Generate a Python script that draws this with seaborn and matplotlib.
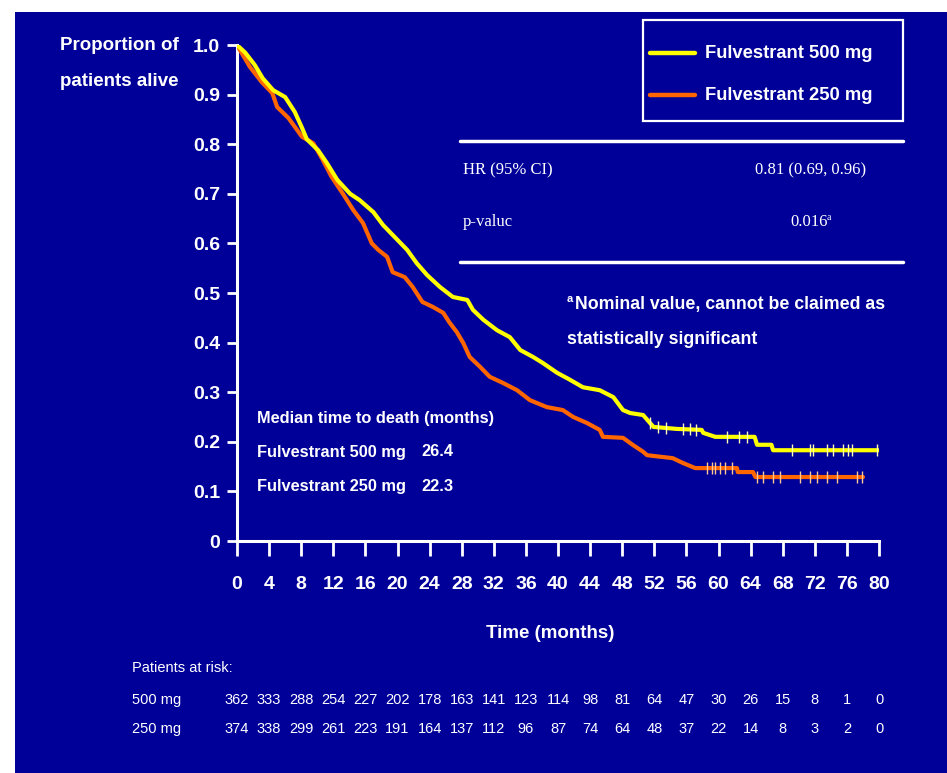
import numpy as np
import pandas as pd
import matplotlib
matplotlib.use("Agg")
import matplotlib.pyplot as plt
from matplotlib.patches import Rectangle
from matplotlib.lines import Line2D
import seaborn as sns

# ---------------- data ----------------
t_500 = [0, 1, 2.2, 3.2, 4.5, 6, 7.2, 8.1, 8.7, 10.1, 11.2, 12.5, 14.1, 15.3, 17, 18.2,
         19.4, 21.2, 22.4, 23.7, 25.3, 26.9, 28.7, 29.4, 30.7, 32.4, 34, 35.3, 36.9, 38.1,
         39.9, 41.5, 43.1, 45.2, 46.9, 48.1, 49, 50.6, 51.9, 54.8, 57.9, 58.1, 59.6, 64.5,
         64.8, 66.6, 66.8, 79.9]
s_500 = [1.0, 0.985, 0.96, 0.933, 0.909, 0.895, 0.865, 0.833, 0.81, 0.788, 0.762, 0.728,
         0.70, 0.687, 0.663, 0.637, 0.617, 0.587, 0.56, 0.536, 0.512, 0.492, 0.486, 0.466,
         0.446, 0.425, 0.411, 0.385, 0.371, 0.359, 0.339, 0.325, 0.31, 0.304, 0.29, 0.264,
         0.258, 0.254, 0.23, 0.226, 0.224, 0.218, 0.21, 0.21, 0.194, 0.194, 0.183, 0.183]

t_250 = [0, 1.6, 3.1, 4.4, 5, 6.4, 8.1, 9.5, 10.7, 11.8, 13.2, 14.5, 15.7, 16.8, 17.6,
         18.7, 19.4, 20.9, 21.9, 23.1, 24.4, 25.7, 26.5, 27.4, 28.2, 29, 30.3, 31.5, 33.1,
         34.9, 36.5, 38.6, 40.6, 41.9, 43.6, 45.2, 45.6, 48.1, 49.3, 50.6, 51.1, 54.3, 55.6,
         57.1, 62.3, 62.4, 64.3, 64.6, 78]
s_250 = [1.0, 0.956, 0.925, 0.903, 0.875, 0.853, 0.815, 0.802, 0.768, 0.734, 0.70, 0.667,
         0.641, 0.60, 0.587, 0.573, 0.542, 0.532, 0.512, 0.482, 0.472, 0.46, 0.44, 0.421,
         0.399, 0.371, 0.351, 0.331, 0.319, 0.304, 0.284, 0.27, 0.264, 0.25, 0.238, 0.224,
         0.21, 0.208, 0.194, 0.18, 0.173, 0.167, 0.157, 0.147, 0.147, 0.139, 0.139, 0.129,
         0.129]

censor_500 = [51.5, 52.5, 53.5, 55.6, 56.4, 57.2, 61.0, 62.5, 63.5, 69.2, 71.4, 71.8,
              73.5, 74.3, 75.5, 76.1, 76.6, 79.7]
censor_250 = [58.6, 59.2, 59.6, 60.2, 60.8, 61.7, 64.8, 65.5, 66.8, 67.7, 70.2, 71.4,
              72.3, 73.5, 74.8, 77.3, 77.9]

risk_times = list(range(0, 81, 4))
at_risk_500 = [362, 333, 288, 254, 227, 202, 178, 163, 141, 123, 114, 98, 81, 64, 47,
               30, 26, 15, 8, 1, 0]
at_risk_250 = [374, 338, 299, 261, 223, 191, 164, 137, 112, 96, 87, 74, 64, 48, 37,
               22, 14, 8, 3, 2, 0]

group_labels = ["Fulvestrant 500 mg", "Fulvestrant 250 mg"]
y_ticks = [0, 0.1, 0.2, 0.3, 0.4, 0.5, 0.6, 0.7, 0.8, 0.9, 1.0]
y_tick_labels = ["0", "0.1", "0.2", "0.3", "0.4", "0.5", "0.6", "0.7", "0.8", "0.9", "1.0"]

# ---------------- style ----------------
sns.set_theme(style="white")
SANS = ["Liberation Sans Narrow", "Liberation Sans", "DejaVu Sans"]
SERIF = ["Liberation Serif", "DejaVu Serif"]
plt.rcParams["font.family"] = SANS

BG = "#000099"
YEL = "#FFFF00"
ORG = "#FF6600"
W, H = 947, 773

fig = plt.figure(figsize=(W / 100, H / 100), dpi=100, facecolor="white")
fig.patches.append(Rectangle((15 / W, 0), 1 - 15 / W, 1 - 12 / H,
                             transform=fig.transFigure, facecolor=BG,
                             edgecolor="none", zorder=-10))

def px(x, y):
    return x / W, 1 - y / H

ax = fig.add_axes([237 / W, 1 - 541 / H, (879 - 237) / W, (541 - 45) / H])
ax.set_facecolor("none")
ax.set_zorder(2)

df = pd.concat([
    pd.DataFrame({"t": t_250, "s": s_250, "g": group_labels[1]}),
    pd.DataFrame({"t": t_500, "s": s_500, "g": group_labels[0]}),
])
sns.lineplot(data=df, x="t", y="s", hue="g", hue_order=[group_labels[1], group_labels[0]],
             palette=[ORG, YEL], estimator=None, sort=False,
             linewidth=3.0, legend=False, ax=ax, zorder=3)

def curve_at(ts, ss, x):
    return np.interp(x, ts, ss)

c500 = pd.DataFrame({"t": censor_500, "s": curve_at(t_500, s_500, censor_500)})
c250 = pd.DataFrame({"t": censor_250, "s": curve_at(t_250, s_250, censor_250)})
sns.scatterplot(data=c500, x="t", y="s", marker="|", s=80, color="#FFFFB0",
                linewidth=1.0, ax=ax, zorder=4)
sns.scatterplot(data=c250, x="t", y="s", marker="|", s=80, color="#FFC890",
                linewidth=1.0, ax=ax, zorder=4)

ax.set_xlim(0, 80)
ax.set_ylim(0, 1.0)
ax.set_xticks(risk_times)
ax.set_xticklabels([str(v) for v in risk_times])
ax.set_yticks(y_ticks)
ax.set_yticklabels(y_tick_labels)
for sp in ["top", "right"]:
    ax.spines[sp].set_visible(False)
for sp in ["left", "bottom"]:
    ax.spines[sp].set_color("white")
    ax.spines[sp].set_linewidth(2.2)
ax.tick_params(axis="y", direction="out", length=7, width=2, color="white",
               labelcolor="white", labelsize=14, pad=5, left=True)
ax.tick_params(axis="x", direction="out", length=11, width=2, color="white",
               labelcolor="white", labelsize=14, pad=14, bottom=True)
for lab in ax.get_xticklabels() + ax.get_yticklabels():
    lab.set_fontweight("bold")
ax.set_xlabel("")
ax.set_ylabel("")

# axis titles
fig.text(*px(550, 633), "Time (months)", color="white", fontsize=13.5, fontweight="bold",
         ha="center", va="center")
fig.text(*px(60, 45), "Proportion of", color="white", fontsize=13.5, fontweight="bold",
         ha="left", va="center")
fig.text(*px(60, 82), "patients alive", color="white", fontsize=13.5, fontweight="bold",
         ha="left", va="center")

# legend box
fig.patches.append(Rectangle(px(643, 121), (903 - 643) / W, (121 - 20) / H,
                             transform=fig.transFigure, facecolor="none",
                             edgecolor="white", linewidth=1.6, zorder=5))
for (yy, col, lab) in [(53, YEL, group_labels[0]), (95, ORG, group_labels[1])]:
    fig.lines.append(Line2D([650 / W, 695 / W], [1 - yy / H, 1 - yy / H],
                            transform=fig.transFigure, color=col, linewidth=3.2))
    fig.text(*px(705, yy + 1), lab, color="white", fontsize=13.2, fontweight="bold",
             ha="left", va="center")

# HR table
for yy in [141, 262]:
    fig.lines.append(Line2D([460 / W, 903 / W], [1 - yy / H, 1 - yy / H],
                            transform=fig.transFigure, color="white", linewidth=2.5))
fig.text(*px(463, 170), "HR (95% CI)", color="white", fontsize=12, family=SERIF,
         ha="left", va="center")
fig.text(*px(866, 170), "0.81 (0.69, 0.96)", color="white", fontsize=12, family=SERIF,
         ha="right", va="center")
fig.text(*px(463, 222), "p-valuc", color="white", fontsize=12, family=SERIF,
         ha="left", va="center")
fig.text(*px(790, 222), "0.016", color="white", fontsize=12, family=SERIF,
         ha="left", va="center")
fig.text(*px(827, 217), "a", color="white", fontsize=7, family=SERIF,
         ha="left", va="center")

# footnote
fig.text(*px(567, 299), "a", color="white", fontsize=8, fontweight="bold",
         ha="left", va="center")
fig.text(*px(575, 304), "Nominal value, cannot be claimed as", color="white",
         fontsize=12.8, fontweight="bold", ha="left", va="center")
fig.text(*px(567, 340), "statistically significant", color="white",
         fontsize=12.8, fontweight="bold", ha="left", va="center")

# medians
MS = 11.8
fig.text(*px(257, 418), "Median time to death (months)", color="white", fontsize=MS,
         fontweight="bold", ha="left", va="center")
fig.text(*px(257, 452), group_labels[0], color="white", fontsize=MS,
         fontweight="bold", ha="left", va="center")
fig.text(*px(421, 452), "26.4", color="white", fontsize=MS,
         fontweight="bold", ha="left", va="center")
fig.text(*px(257, 486), group_labels[1], color="white", fontsize=MS,
         fontweight="bold", ha="left", va="center")
fig.text(*px(421, 486), "22.3", color="white", fontsize=MS,
         fontweight="bold", ha="left", va="center")

# patients at risk
RS = 10.5
fig.text(*px(132, 668), "Patients at risk:", color="white", fontsize=RS,
         ha="left", va="center")
fig.text(*px(132, 700), "500 mg", color="white", fontsize=RS, ha="left", va="center")
fig.text(*px(132, 729), "250 mg", color="white", fontsize=RS, ha="left", va="center")
trans = matplotlib.transforms.blended_transform_factory(ax.transData, fig.transFigure)
for tt, a, b in zip(risk_times, at_risk_500, at_risk_250):
    ax.text(tt, 1 - 700 / H, str(a), transform=trans, color="white", fontsize=RS,
            ha="center", va="center", clip_on=False)
    ax.text(tt, 1 - 729 / H, str(b), transform=trans, color="white", fontsize=RS,
            ha="center", va="center", clip_on=False)

fig.savefig("out.png", dpi=100, facecolor=fig.get_facecolor())
